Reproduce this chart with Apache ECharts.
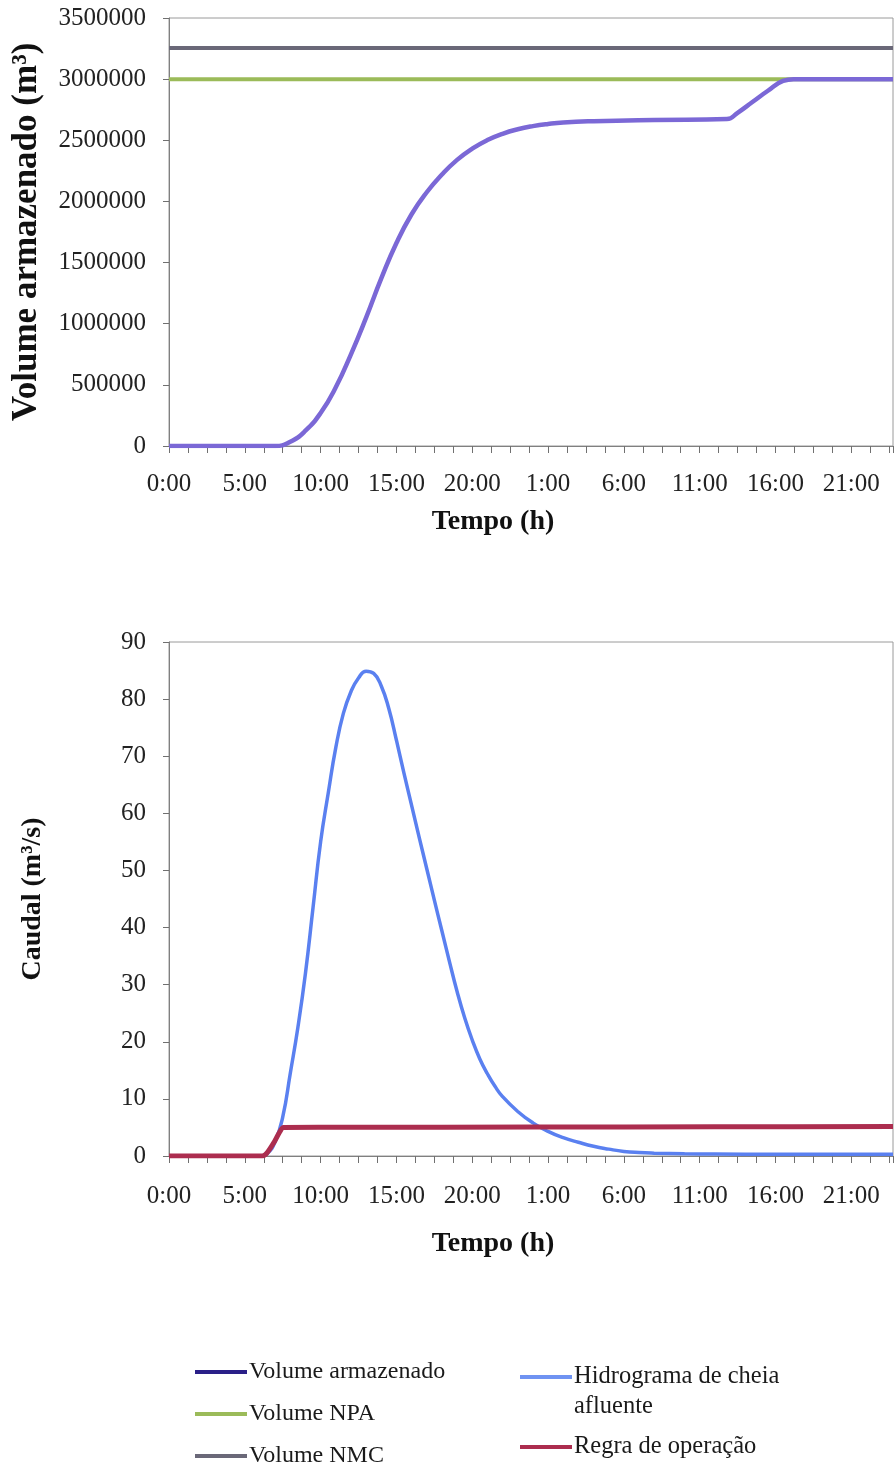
<!DOCTYPE html>
<html>
<head>
<meta charset="utf-8">
<script src="https://cdn.jsdelivr.net/npm/echarts@6/dist/echarts.min.js"></script>
<style>html,body{margin:0;padding:0;background:#fff}#c{width:896px;height:1471px}</style>
</head>
<body>
<div id="c"></div>
<script>
// ---- Data (time in hours from 0:00 of day 1) ----
const volArmT = [0, 7, 8, 9, 10, 11, 12, 13, 14, 15, 16, 17, 18, 19, 20, 21, 22, 23, 24, 25, 26, 28, 32, 36.8, 37.5, 38.5, 39.5, 40.5, 41.2, 47.75];
const volArmV = [0, 0, 35000, 125000, 270000, 480000, 750000, 1050000, 1370000, 1660000, 1895000, 2075000, 2220000, 2340000, 2432000, 2502000, 2553000, 2590000, 2616000, 2634000, 2646000, 2656000, 2666000, 2674000, 2725000, 2815000, 2905000, 2985000, 3000000, 3000000];
const npaT = [0, 47.75];
const npaV = [3000000, 3000000];
const nmcT = [0, 47.75];
const nmcV = [3255000, 3255000];

const hidT = [0, 6.0, 6.5, 7.0, 7.5, 8.0, 8.5, 9.0, 9.5, 10.0, 10.5, 11.0, 11.5, 12.0, 12.5, 13.0, 13.5, 14.0, 14.5, 15.0, 15.5, 16.0, 16.5, 17.0, 17.5, 18.0, 18.5, 19.0, 19.5, 20.0, 20.5, 21.0, 21.5, 22.0, 23.0, 24.0, 25.0, 26.0, 27.0, 28.0, 29.0, 30.0, 31.0, 32.0, 34.0, 36.0, 40.0, 47.75];
const hidV = [0, 0, 0.5, 2.5, 6.8, 14.5, 22.5, 32.0, 43.5, 55.0, 63.5, 71.5, 77.5, 81.3, 83.7, 84.9, 84.5, 82.3, 78.3, 72.8, 67.0, 61.4, 55.8, 50.3, 44.8, 39.4, 34.0, 28.8, 24.2, 20.3, 17.0, 14.4, 12.2, 10.4, 7.8, 5.8, 4.3, 3.2, 2.4, 1.7, 1.2, 0.8, 0.6, 0.5, 0.4, 0.35, 0.3, 0.3];
const regT = [0, 6.15, 6.45, 6.95, 7.3, 7.55, 12.0, 24.0, 36.0, 47.75];
const regV = [0, 0, 0.5, 2.5, 4.2, 5.0, 5.02, 5.06, 5.1, 5.15];

const volTicksMax = 3500000, volTickStep = 500000;
const qTicksMax = 90, qTickStep = 10;
const tMax = 47.75, tTickStep = 1.25, tLabelStep = 5;

const names = ['Volume armazenado', 'Volume NPA', 'Volume NMC', 'Hidrograma de cheia afluente', 'Regra de operação'];

const pairs = (t, v) => t.map((x, i) => [x, v[i]]);
const SERIF = 'Liberation Serif';

function xAxis(gi, margin, nameGap) {
  return {
    type: 'value', gridIndex: gi, min: 0, max: tMax, interval: tTickStep,
    axisLine: { show: true, onZero: false, lineStyle: { color: '#808080', width: 1 } },
    axisTick: { show: true, inside: false, length: 7, lineStyle: { color: '#707070' } },
    splitLine: { show: false },
    axisLabel: {
      margin: margin, fontFamily: SERIF, fontSize: 25, color: '#222',
      formatter: v => {
        const k = v / tLabelStep;
        return Math.abs(k - Math.round(k)) < 1e-6 ? (Math.round(v) % 24) + ':00' : '';
      }
    },
    name: 'Tempo (h)', nameLocation: 'middle', nameGap: nameGap,
    nameTextStyle: { fontFamily: SERIF, fontWeight: 'bold', fontSize: 28, color: '#111', padding: [0, 76, 0, 0] }
  };
}
function yAxis(gi, max, step, name, nameGap, nameSize) {
  return {
    type: 'value', gridIndex: gi, min: 0, max: max, interval: step,
    axisLine: { show: true, lineStyle: { color: '#808080', width: 1 } },
    axisTick: { show: true, inside: false, length: 6, lineStyle: { color: '#707070' } },
    splitLine: { show: false },
    axisLabel: { margin: 23, fontFamily: SERIF, fontSize: 25, color: '#222', formatter: v => String(v) },
    name: name, nameLocation: 'middle', nameRotate: 90, nameGap: nameGap,
    nameTextStyle: { fontFamily: SERIF, fontWeight: 'bold', fontSize: nameSize, color: '#111' }
  };
}

const chart = echarts.init(document.getElementById('c'), null, { renderer: 'canvas' });
chart.setOption({
  animation: false,
  backgroundColor: '#fff',
  grid: [
    { left: 169, top: 18, width: 724, height: 428, show: true, borderColor: '#9a9a9a', borderWidth: 1 },
    { left: 169, top: 642, width: 724, height: 514, show: true, borderColor: '#9a9a9a', borderWidth: 1 }
  ],
  xAxis: [xAxis(0, 26, 62), xAxis(1, 28, 74)],
  yAxis: [
    yAxis(0, volTicksMax, volTickStep, 'Volume armazenado (m³)', 125, 35),
    yAxis(1, qTicksMax, qTickStep, 'Caudal (m³/s)', 122, 28)
  ],
  legend: [
    {
      left: 195, top: 1360, padding: 0, orient: 'vertical', icon: 'rect', itemWidth: 52, itemHeight: 4, itemGap: 18,
      selectedMode: false,
      textStyle: { fontFamily: SERIF, fontSize: 24, color: '#1a1a1a', lineHeight: 24, padding: [0, 0, 0, -3] },
      data: [
        { name: names[0], itemStyle: { color: '#2a1f88' } },
        { name: names[1], itemStyle: { color: '#9bbb59' } },
        { name: names[2], itemStyle: { color: '#6a6878' } }
      ]
    },
    {
      left: 520, top: 1332, padding: 0, orient: 'vertical', icon: 'rect', itemWidth: 52, itemHeight: 4, itemGap: 10,
      selectedMode: false,
      formatter: n => n === names[3] ? ' \nHidrograma de cheia\nafluente' : n,
      textStyle: { fontFamily: SERIF, fontSize: 24.5, color: '#1a1a1a', lineHeight: 30, padding: [0, 0, 0, -3] },
      data: [
        { name: names[3], itemStyle: { color: '#6f93f2' } },
        { name: names[4], itemStyle: { color: '#ac2d4f' } }
      ]
    }
  ],
  series: [
    { name: names[1], type: 'line', xAxisIndex: 0, yAxisIndex: 0, showSymbol: false, data: pairs(npaT, npaV),
      lineStyle: { color: '#9bbb59', width: 4 }, itemStyle: { color: '#9bbb59' } },
    { name: names[2], type: 'line', xAxisIndex: 0, yAxisIndex: 0, showSymbol: false, data: pairs(nmcT, nmcV),
      lineStyle: { color: '#6a6878', width: 4 }, itemStyle: { color: '#6a6878' } },
    { name: names[0], type: 'line', xAxisIndex: 0, yAxisIndex: 0, showSymbol: false, smooth: 0.5, data: pairs(volArmT, volArmV),
      lineStyle: { color: '#7b68d6', width: 4.5 }, itemStyle: { color: '#7b68d6' } },
    { name: names[3], type: 'line', xAxisIndex: 1, yAxisIndex: 1, showSymbol: false, smooth: 0.5, data: pairs(hidT, hidV),
      lineStyle: { color: '#5a80f0', width: 3.5 }, itemStyle: { color: '#5a80f0' } },
    { name: names[4], type: 'line', xAxisIndex: 1, yAxisIndex: 1, showSymbol: false, smooth: 0.3, data: pairs(regT, regV),
      lineStyle: { color: '#ac2d4f', width: 5 }, itemStyle: { color: '#ac2d4f' } }
  ]
});
</script>
</body>
</html>
